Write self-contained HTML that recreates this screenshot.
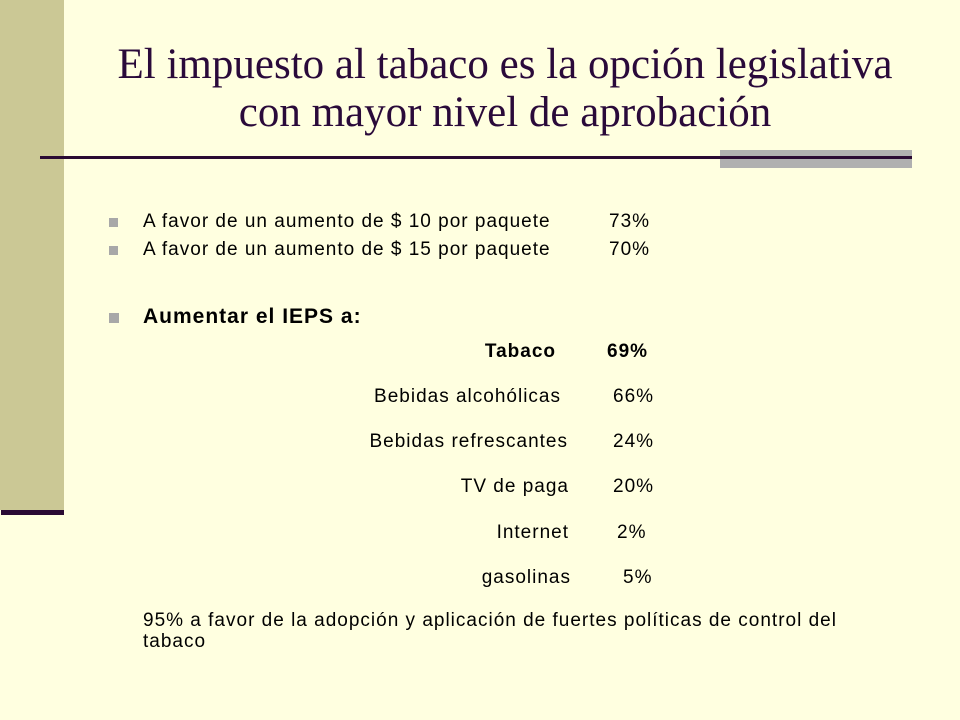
<!DOCTYPE html>
<html><head><meta charset="utf-8"><style>
body{margin:0;width:960px;height:720px;background:#ffffe0;position:relative;overflow:hidden;font-family:"Liberation Sans",Arial,sans-serif;color:#000}
.a{position:absolute;white-space:nowrap}
.t{font-size:19px;line-height:20px;letter-spacing:1px}
.sq{position:absolute;width:9px;height:9px;background:#a8a8a8}
</style></head><body>
<div class="a" style="left:0;top:0;width:64px;height:510px;background:#cbc895"></div>
<div class="a" style="left:1px;top:510px;width:63px;height:5px;background:#2a0a33"></div>
<div class="a" style="left:64px;top:41px;width:882px;text-align:center;font-family:'Liberation Serif',serif;font-size:43px;line-height:48px;color:#2a0a3a">El impuesto al tabaco es la opción legislativa<br>con mayor nivel de aprobación</div>
<div class="a" style="left:720px;top:150px;width:192px;height:18px;background:#b0b0b0"></div>
<div class="a" style="left:40px;top:156px;width:872px;height:3px;background:#2a0a33"></div>

<div class="sq" style="left:109px;top:218px"></div>
<div class="a t" style="left:143px;top:212px">A favor de un aumento de $ 10 por paquete</div>
<div class="a t" style="left:609px;top:212px">73%</div>
<div class="sq" style="left:109px;top:246px"></div>
<div class="a t" style="left:143px;top:240px">A favor de un aumento de $ 15 por paquete</div>
<div class="a t" style="left:609px;top:240px">70%</div>

<div class="sq" style="left:109px;top:313px;width:10px;height:10px"></div>
<div class="a" style="left:143px;top:305px;font-size:21px;letter-spacing:1px;font-weight:bold;line-height:24px">Aumentar el IEPS a:</div>

<div class="a t" style="right:404px;top:342px;font-weight:bold">Tabaco</div>
<div class="a t" style="left:607px;top:342px;font-weight:bold">69%</div>
<div class="a t" style="right:399px;top:387px">Bebidas alcohólicas</div>
<div class="a t" style="left:613px;top:387px">66%</div>
<div class="a t" style="right:392px;top:432px">Bebidas refrescantes</div>
<div class="a t" style="left:613px;top:432px">24%</div>
<div class="a t" style="right:391px;top:477px">TV de paga</div>
<div class="a t" style="left:613px;top:477px">20%</div>
<div class="a t" style="right:391px;top:523px">Internet</div>
<div class="a t" style="left:617px;top:523px">2%</div>
<div class="a t" style="right:389px;top:568px">gasolinas</div>
<div class="a t" style="left:623px;top:568px">5%</div>

<div class="a t" style="left:143px;top:610px;line-height:21px">95% a favor de la adopción y aplicación de fuertes políticas de control del<br>tabaco</div>
</body></html>
